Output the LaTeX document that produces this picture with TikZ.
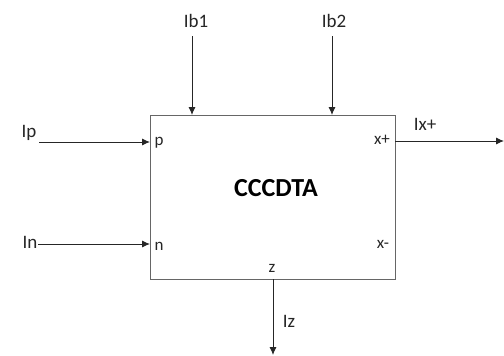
\documentclass[tikz,border=0pt]{standalone}
\usepackage{fontspec}
\setmainfont{Carlito}
\usetikzlibrary{arrows.meta}
\begin{document}
\begin{tikzpicture}[x=1pt,y=-1pt,
  lbl/.style={font=\fontsize{19}{21}\selectfont, text=black!85, inner sep=0pt},
  port/.style={font=\fontsize{17}{19}\selectfont, text=black!85, inner sep=0pt},
  sig/.style={draw=black!85, line width=0.9pt, -{Latex[length=8pt,width=7pt]}},
  boxst/.style={draw=black!60, line width=1pt}]
\useasboundingbox (0,0) rectangle (504,356);
\draw[boxst] (150,115) rectangle (395,279);
\node[font=\bfseries\fontsize{26}{28}\selectfont, inner sep=0pt] (title) at (276,188) {CCCDTA};
% ports
\coordinate (pp) at (150,142);
\coordinate (pn) at (150,244);
\coordinate (pb1) at (192,115);
\coordinate (pb2) at (332,115);
\coordinate (px) at (395,141);
\coordinate (pz) at (273,279);
\coordinate (sp) at (39,142);
\coordinate (sn) at (38,244);
\coordinate (sb1) at (192,36);
\coordinate (sb2) at (332,36);
\coordinate (ex) at (504,141);
\coordinate (ez) at (273,355);
\draw[sig] (sp) -- (pp);
\draw[sig] (sn) -- (pn);
\draw[sig] (sb1) -- (pb1);
\draw[sig] (sb2) -- (pb2);
\draw[sig] (px) -- (ex);
\draw[sig] (pz) -- (ez);
% labels
\node[lbl] (lp) at (29,133) {Ip};
\node[lbl] (ln) at (30,242) {In};
\node[lbl] (lb1) at (196,21) {Ib1};
\node[lbl] (lb2) at (334,21) {Ib2};
\node[lbl] (lx) at (425,124) {Ix+};
\node[lbl] (lz) at (289,321) {Iz};
\node[port] (np) at (159,143) {p};
\node[port] (nn) at (159,246) {n};
\node[port] (nxp) at (382,140) {x+};
\node[port] (nxm) at (383,244) {x-};
\node[port] (nz) at (272,268) {z};
\end{tikzpicture}
\end{document}
